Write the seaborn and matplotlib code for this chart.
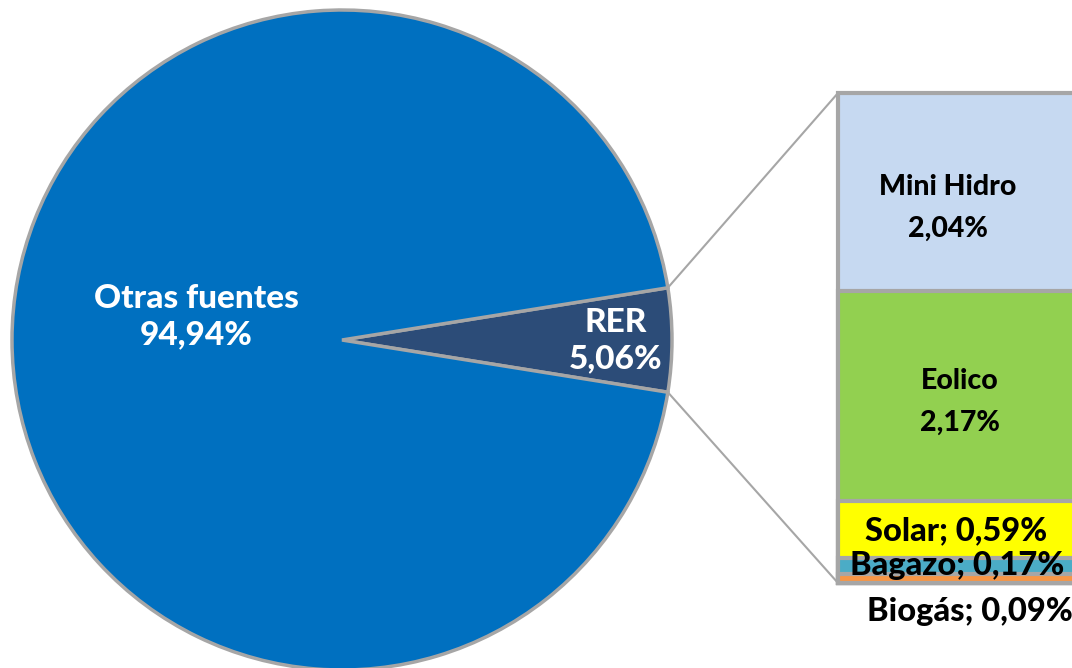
import matplotlib
matplotlib.use("Agg")
import matplotlib.pyplot as plt
import numpy as np
import pandas as pd
import seaborn as sns
from matplotlib.patches import ConnectionPatch

# pie data
pie_labels = ["RER", "Otras fuentes"]
pie_values = [5.06, 94.94]
pie_colors = ["#2C4C78", "#0070C0"]

# breakdown of RER (top to bottom)
rer_labels = ["Mini Hidro", "Eolico", "Solar", "Bagazo", "Biogás"]
rer_values = [2.04, 2.17, 0.59, 0.17, 0.09]
rer_colors = ["#C6D9F1", "#92D050", "#FFFF00", "#4BACC6", "#F79646"]

EDGE = "#A6A6A6"
W, H = 1072, 668

sns.set_theme(style="white")
plt.rcParams["font.family"] = ["Lato", "DejaVu Sans"]

fig = plt.figure(figsize=(W / 100, H / 100), dpi=100)
fig.patch.set_facecolor("white")

# pie axes in pixel coordinates (y up)
ax = fig.add_axes([0, 0, 1, 1])
cx, cy, r = 342, H - 340, 330
half = pie_values[0] / 100 * 360 / 2
wedges, _ = ax.pie(
    pie_values, colors=pie_colors, startangle=-half, counterclock=True,
    center=(cx, cy), radius=r, frame=True,
    wedgeprops=dict(edgecolor=EDGE, linewidth=2.5),
)
ax.set_xlim(0, W)
ax.set_ylim(0, H)
ax.set_aspect("equal")
ax.axis("off")

# stacked bar axes
bar_top, bar_bot, bar_left = 93, 583, 838
bax = fig.add_axes([bar_left / W, (H - bar_bot) / H, 300 / W, (bar_bot - bar_top) / H])
cum = np.cumsum(rer_values[::-1])[::-1]  # cumulative from bottom
df = pd.DataFrame({"cum": cum, "label": rer_labels})
for i, row in df.iterrows():
    sns.barplot(x=[0], y=[row["cum"]], color=rer_colors[i], ax=bax,
                edgecolor=EDGE, linewidth=3, width=0.8, saturation=1)
for p in bax.patches:
    p.set_clip_on(False)
bax.set_xlim(-0.4, 0.4)
bax.set_ylim(0, sum(rer_values))
bax.axis("off")

# connector lines
for sgn, ybar in [(1, sum(rer_values)), (-1, 0)]:
    ang = np.deg2rad(sgn * half)
    p0 = (cx + r * np.cos(ang), cy + r * np.sin(ang))
    con = ConnectionPatch(xyA=p0, coordsA=ax.transData, xyB=(-0.4, ybar),
                          coordsB=bax.transData, color=EDGE, linewidth=1.5)
    fig.add_artist(con)


def label(x, y, s, color="black", fs=24, ls=1.3):
    ax.text(x, H - y, s, color=color, ha="center", va="center", fontsize=fs,
            fontweight="black", linespacing=ls, zorder=10)


label(196, 317, "Otras fuentes\n94,94%", color="white")
label(616, 341, "RER\n5,06%", color="white")
label(948, 208, "Mini Hidro\n2,04%", fs=20.5, ls=1.75)
label(960, 402, "Eolico\n2,17%", fs=20.5, ls=1.75)
label(956, 531, "Solar; 0,59%", fs=23.5)
label(957, 565, "Bagazo; 0,17%", fs=23.5)
label(970, 612, "Biogás; 0,09%", fs=23.5)

# draw pie-axis text above bar axes
ax.set_zorder(2)
ax.patch.set_alpha(0)

fig.savefig("out.png", dpi=100)
